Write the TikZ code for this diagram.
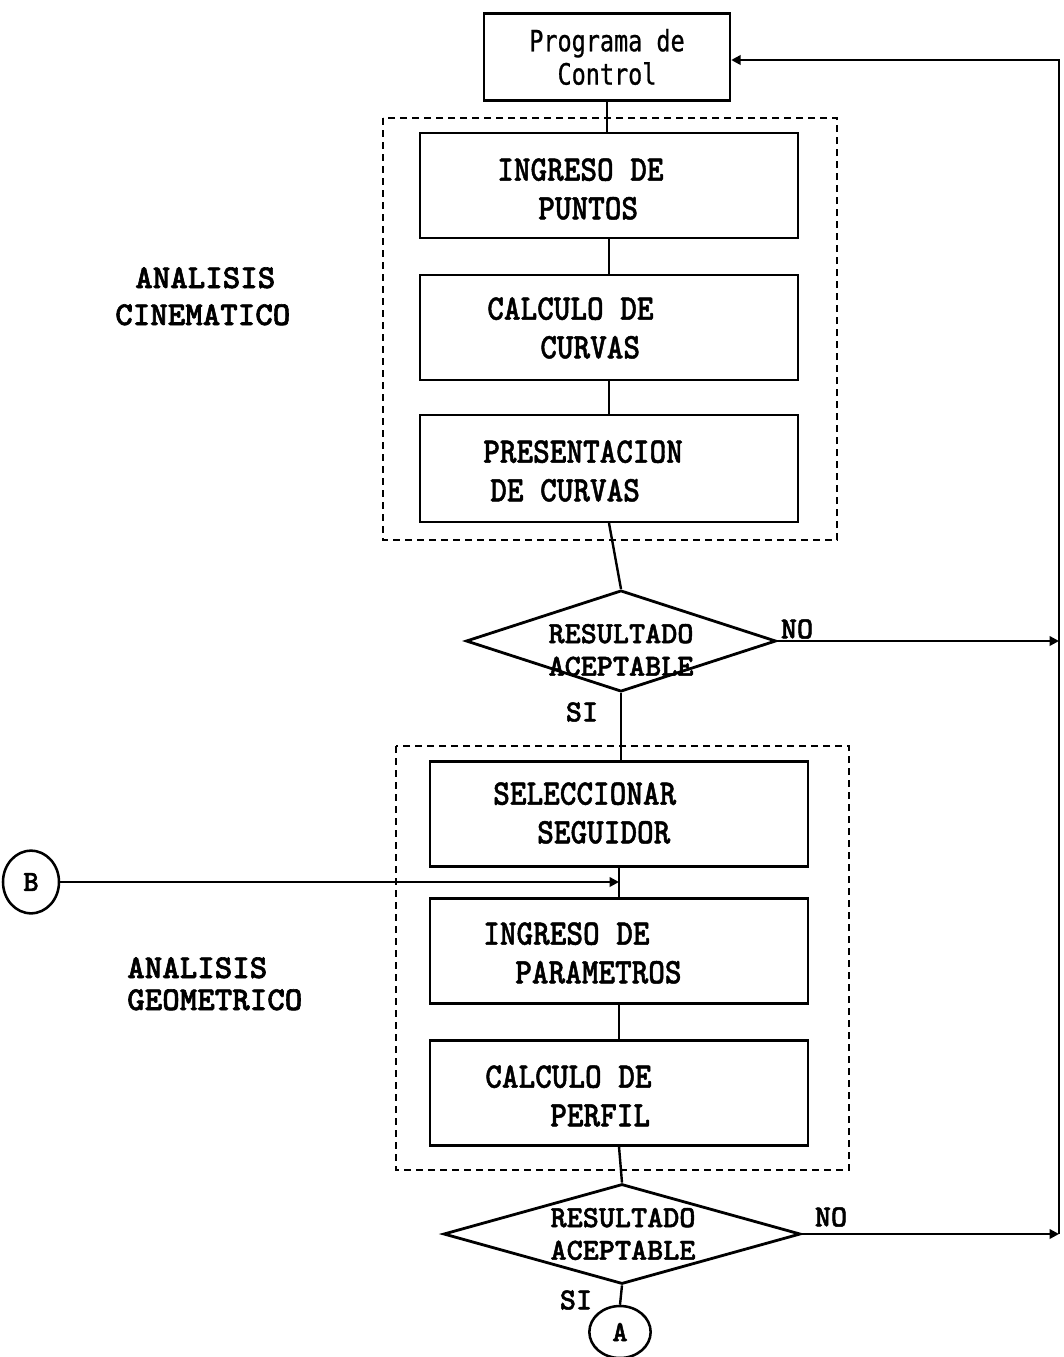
\documentclass[tikz,border=0pt]{standalone}
\usepackage{fontspec}
\newfontfamily\boxfont{lmmono10-regular}[Extension=.otf, FakeStretch=0.88, BoldFont=lmmonolt10-bold, BoldFeatures={FakeStretch=0.88, FakeBold=1.2}]
\newfontfamily\diafont{lmmono10-regular}[Extension=.otf, FakeStretch=1.0, BoldFont=lmmonolt10-bold, BoldFeatures={FakeStretch=1.0, FakeBold=1.6}]
\newfontfamily\lblfont{lmmono10-regular}[Extension=.otf, FakeStretch=1.0, BoldFont=lmmonolt10-bold, BoldFeatures={FakeStretch=1.0, FakeBold=1.8}]
\newfontfamily\progfont[FakeStretch=0.8, FakeBold=0.8]{DejaVu Sans Mono}
\usetikzlibrary{shapes.geometric,arrows.meta}
\tikzset{
  procbox/.style={draw, line width=1.9pt, inner sep=0pt, minimum width=283.5pt, minimum height=78.75pt},
  boxtext/.style={align=left, anchor=west, inner sep=0pt, font=\boxfont\bfseries\fontsize{27}{29}\selectfont},
  progbox/.style={draw, line width=1.8pt, inner sep=0pt, minimum width=184.5pt, minimum height=65pt,
     align=center, font=\progfont\fontsize{22}{25}\selectfont},
  dia/.style={draw, diamond, line width=2.1pt, inner sep=0pt},
  diatext/.style={align=center, font=\diafont\bfseries\fontsize{23}{24.5}\selectfont, inner sep=0pt},
  lbl/.style={anchor=base west, font=\lblfont\bfseries\fontsize{25}{25}\selectfont, inner sep=0pt},
  small/.style={font=\diafont\bfseries\fontsize{23}{23}\selectfont, inner sep=0pt},
  grp/.style={draw, dash pattern=on 5.5pt off 3.5pt, line width=1.4pt},
  conn/.style={line width=1.8pt},
  arr/.style={line width=1.8pt, -{Triangle[length=7pt,width=7pt]}},
  conncirc/.style={draw, ellipse, line width=1.9pt, inner sep=0pt, font=\diafont\bfseries\fontsize{22}{22}\selectfont}
}
\begin{document}
\begin{tikzpicture}[x=0.75pt,y=-0.75pt]
\useasboundingbox (0,0) rectangle (1064,1357);
% groups
\draw[grp] (383,118) rectangle (837,540);
\draw[grp] (396,746) rectangle (849,1170);
% control box
\node[progbox] (prog) at (607,57) {Programa de\\Control};
% process boxes
\node[procbox] (b1) at (609,185.5) {};
\node[boxtext] (t1) at (497,189) {INGRESO DE\\\hspace*{30.75pt}PUNTOS};
\node[procbox] (b2) at (609,327.5) {};
\node[boxtext] (t2) at (487,328) {CALCULO DE\\\hspace*{39.75pt}CURVAS};
\node[procbox, minimum height=80pt] (b3) at (609,468.5) {};
\node[boxtext] (t3) at (483,471) {PRESENTACION\\\hspace*{5.25pt}DE CURVAS};
\node[procbox] (b4) at (619,814) {};
\node[boxtext] (t4) at (493,813) {SELECCIONAR\\\hspace*{33pt}SEGUIDOR};
\node[procbox] (b5) at (619,951) {};
\node[boxtext] (t5) at (483,953) {INGRESO DE\\\hspace*{24pt}PARAMETROS};
\node[procbox] (b6) at (619,1093) {};
\node[boxtext] (t6) at (485,1096) {CALCULO DE\\\hspace*{48.75pt}PERFIL};
% decisions
\node[dia, minimum width=232.5pt, minimum height=76pt] (d1) at (621,641) {};
\node[diatext] (d1t) at (621,650) {RESULTADO\\ACEPTABLE};
\node[dia, minimum width=267.75pt, minimum height=75pt] (d2) at (622,1234) {};
\node[diatext] (d2t) at (623,1234) {RESULTADO\\ACEPTABLE};
% connectors circles
\node[conncirc, minimum width=42pt, minimum height=47pt] (B) at (31,882) {B};
\node[conncirc, minimum width=46pt, minimum height=39pt] (A) at (620,1332) {A};
% side labels
\node[lbl] (l1a) at (135,288) {ANALISIS};
\node[lbl] (l1b) at (115,325) {CINEMATICO};
\node[lbl] (l2a) at (127,978) {ANALISIS};
\node[lbl] (l2b) at (127,1010) {GEOMETRICO};
% branch labels
\node[small] (no1) at (797,629) {NO};
\node[small] (si1) at (582,712) {SI};
\node[small] (no2) at (831,1217) {NO};
\node[small] (si2) at (576,1300) {SI};
% coordinates
\coordinate (rt) at (1059,60);
\coordinate (bin) at (619,882);
% connectors
\draw[conn] (prog.south) -- (prog.south |- b1.north);
\draw[conn] (b1.south) -- (b2.north);
\draw[conn] (b2.south) -- (b3.north);
\draw[conn] (b3.south) -- (d1.north);
\draw[conn] (d1.south) -- (d1.south |- b4.north);
\draw[conn] (b4.south) -- (b5.north);
\draw[conn] (b5.south) -- (b6.north);
\draw[conn] (b6.south) -- (d2.north);
\draw[conn] (d2.south) -- (A.north);
\draw[arr] (B.east) -- (bin);
\draw[arr] (d1.east) -- (d1.east -| rt);
\draw[arr] (d2.east) -- (d2.east -| rt);
\draw[arr] (d2.east -| rt) -- (rt) -- (prog.east |- rt);
\end{tikzpicture}
\end{document}
